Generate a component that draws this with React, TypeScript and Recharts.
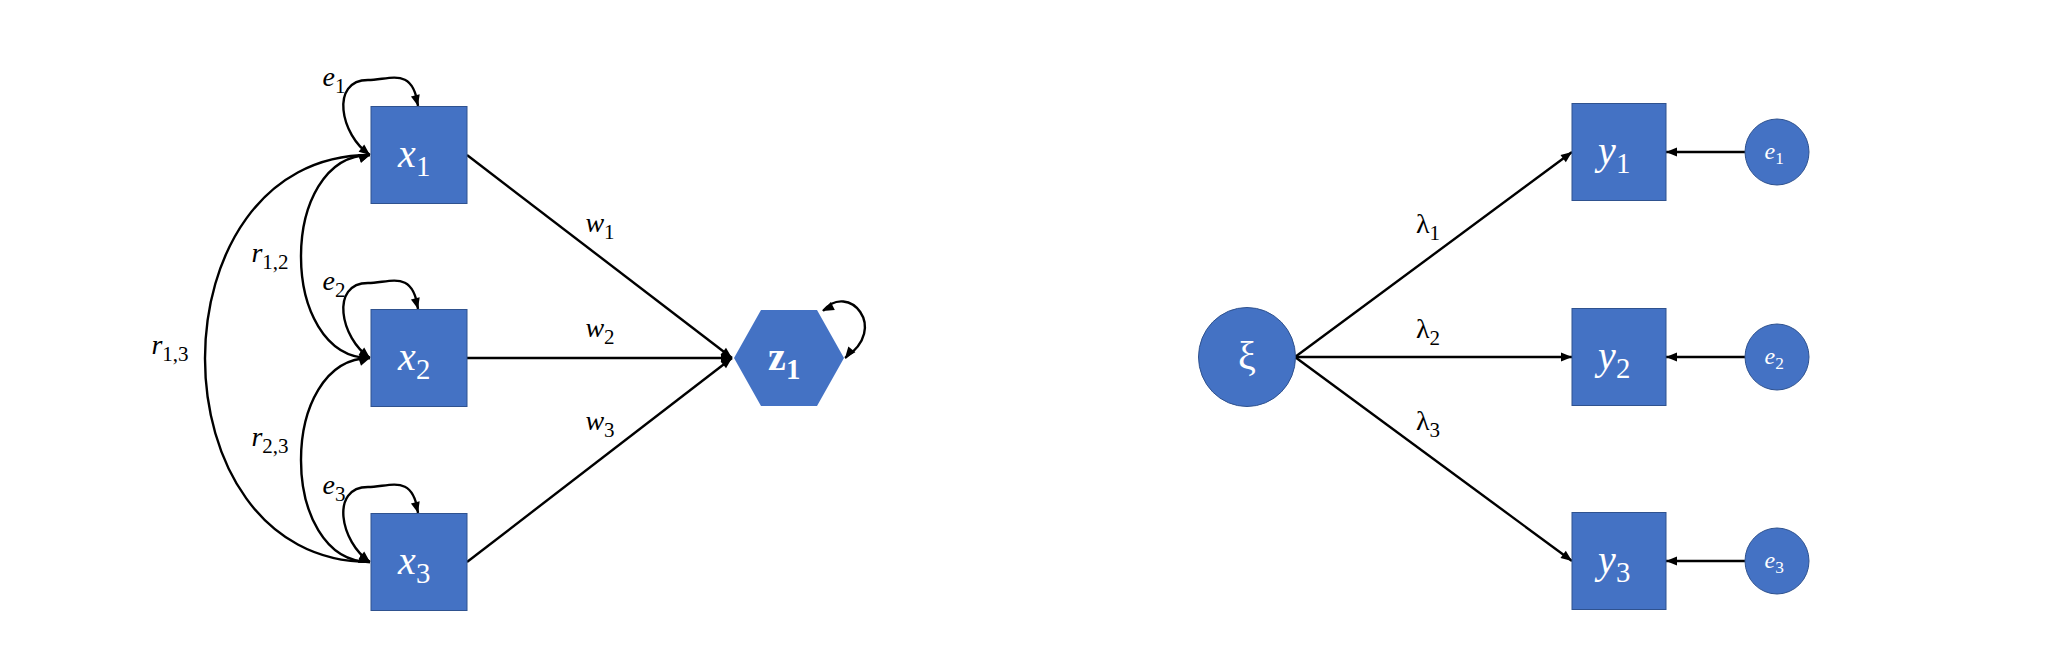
import React from "react"
import { ScatterChart, Scatter, XAxis, YAxis, ReferenceLine } from "recharts"

const W = 2056
const H = 672
const BLUE = "#4472C4"
const EDGE = "#2F528F"

// nodes: centre of each shape
const nodes = [
  { x: 419, y: 155, kind: "box", main: "x", sub: "1", w: 96, h: 97 },
  { x: 419, y: 358, kind: "box", main: "x", sub: "2", w: 96, h: 97 },
  { x: 419, y: 562, kind: "box", main: "x", sub: "3", w: 96, h: 97 },
  { x: 789, y: 358, kind: "hex", main: "z", sub: "1", w: 110, h: 96 },
  { x: 1247, y: 357, kind: "circle", main: "ξ", sub: "", w: 97, h: 99 },
  { x: 1619, y: 152, kind: "box", main: "y", sub: "1", w: 94, h: 97 },
  { x: 1619, y: 357, kind: "box", main: "y", sub: "2", w: 94, h: 97 },
  { x: 1619, y: 561, kind: "box", main: "y", sub: "3", w: 94, h: 97 },
  { x: 1777, y: 152, kind: "small", main: "e", sub: "1", w: 64, h: 66 },
  { x: 1777, y: 357, kind: "small", main: "e", sub: "2", w: 64, h: 66 },
  { x: 1777, y: 561, kind: "small", main: "e", sub: "3", w: 64, h: 66 },
]

// path labels
const labels = [
  { x: 334, y: 86, main: "e", sub: "1" },
  { x: 334, y: 290, main: "e", sub: "2" },
  { x: 334, y: 494, main: "e", sub: "3" },
  { x: 270, y: 262, main: "r", sub: "1,2" },
  { x: 270, y: 446, main: "r", sub: "2,3" },
  { x: 170, y: 354, main: "r", sub: "1,3" },
  { x: 600, y: 232, main: "w", sub: "1" },
  { x: 600, y: 337, main: "w", sub: "2" },
  { x: 600, y: 430, main: "w", sub: "3" },
  { x: 1428, y: 233, main: "λ", sub: "1" },
  { x: 1428, y: 338, main: "λ", sub: "2" },
  { x: 1428, y: 430, main: "λ", sub: "3" },
]

// edges: straight arrows, curved two-headed arcs and self loops
type Edge = { from: [number, number]; to: [number, number]; type: "line" | "arc" | "loop" | "zloop"; bulge?: number }
const edges: Edge[] = [
  { from: [467, 155], to: [732, 358], type: "line" },
  { from: [467, 358], to: [732, 358], type: "line" },
  { from: [467, 562], to: [732, 358], type: "line" },
  { from: [1295, 357], to: [1572, 152], type: "line" },
  { from: [1295, 357], to: [1572, 357], type: "line" },
  { from: [1295, 357], to: [1572, 561], type: "line" },
  { from: [1745, 152], to: [1666, 152], type: "line" },
  { from: [1745, 357], to: [1666, 357], type: "line" },
  { from: [1745, 561], to: [1666, 561], type: "line" },
  { from: [370, 155], to: [370, 358], type: "arc", bulge: 69 },
  { from: [370, 358], to: [370, 562], type: "arc", bulge: 69 },
  { from: [370, 155], to: [370, 562], type: "arc", bulge: 165 },
  { from: [370, 155], to: [418, 106], type: "loop" },
  { from: [370, 358], to: [418, 309], type: "loop" },
  { from: [370, 562], to: [418, 513], type: "loop" },
  { from: [823, 311], to: [845, 358], type: "zloop" },
]

const head = (tx: number, ty: number, fx: number, fy: number, key: string) => {
  const a = Math.atan2(ty - fy, tx - fx)
  const L = 11, hw = 4.5
  const bx = tx - L * Math.cos(a), by = ty - L * Math.sin(a)
  const px = -Math.sin(a) * hw, py = Math.cos(a) * hw
  return <polygon key={key} points={`${tx},${ty} ${bx + px},${by + py} ${bx - px},${by - py}`} fill="#000" />
}

const renderEdge = (p: any, e: Edge) => {
  const { x1, y1, x2, y2 } = p
  const sw = 2.4
  if (e.type === "line") {
    return (
      <g>
        <line x1={x1} y1={y1} x2={x2} y2={y2} stroke="#000" strokeWidth={sw} />
        {head(x2, y2, x1, y1, "h")}
      </g>
    )
  }
  if (e.type === "arc") {
    const k = (e.bulge || 0) / 0.75
    const c1x = x1 - k, c2x = x2 - k
    return (
      <g>
        <path d={`M${x1},${y1} C${c1x},${y1} ${c2x},${y2} ${x2},${y2}`} fill="none" stroke="#000" strokeWidth={sw} />
        {head(x1, y1, x1 - 12, y1 + 4, "a")}
        {head(x2, y2, x2 - 12, y2 - 4, "b")}
      </g>
    )
  }
  if (e.type === "loop") {
    const c1x = x1 - 30, c1y = y1 - 20
    const c2x = x2 - 50, c2y = y2 - 70
    const c3x = x2 - 5, c3y = y2 - 40
    return (
      <g>
        <path d={`M${x1},${y1} C${c1x},${c1y} ${x1 - 40},${y1 - 75} ${x1 - 2},${y1 - 75} C${x1 + 20},${y1 - 75} ${c3x},${c3y} ${x2},${y2}`} fill="none" stroke="#000" strokeWidth={sw} />
        {head(x1, y1, x1 - 10, y1 - 8, "a")}
        {head(x2, y2, x2 - 3, y2 - 12, "b")}
      </g>
    )
    void c2x; void c2y
  }
  return (
    <g>
      <path d={`M${x1},${y1} C${x1 + 25},${y1 - 30} ${x2 + 45},${y2 - 30} ${x2},${y2}`} fill="none" stroke="#000" strokeWidth={sw} />
      {head(x1, y1, x1 + 12, y1 - 6, "a")}
      {head(x2, y2, x2 + 8, y2 - 10, "b")}
    </g>
  )
}

const NodeShape = (props: any) => {
  const { cx, cy, payload } = props
  const { kind, main, sub, w, h } = payload
  let shape
  if (kind === "box") {
    shape = <rect x={cx - w / 2} y={cy - h / 2} width={w} height={h} fill={BLUE} stroke={EDGE} strokeWidth={1} />
  } else if (kind === "hex") {
    const hw = w / 2, hh = h / 2, t = 28
    shape = <polygon points={`${cx - hw},${cy} ${cx - t},${cy - hh} ${cx + t},${cy - hh} ${cx + hw},${cy} ${cx + t},${cy + hh} ${cx - t},${cy + hh}`} fill={BLUE} />
  } else {
    shape = <ellipse cx={cx} cy={cy} rx={w / 2} ry={h / 2} fill={BLUE} stroke={EDGE} strokeWidth={1} />
  }
  const small = kind === "small"
  const fs = small ? 24 : 40
  const italic = kind === "box" || small
  return (
    <g>
      {shape}
      <text x={cx - (sub ? fs * 0.12 : 0)} y={cy + fs * 0.3} textAnchor="middle" fill="#fff"
        fontFamily="'Liberation Serif', serif" fontSize={fs}
        fontStyle={italic ? "italic" : "normal"} fontWeight={kind === "hex" ? "bold" : "normal"}>
        {main}
        {sub && <tspan fontStyle="normal" fontWeight={kind === "hex" ? "bold" : "normal"} fontSize={fs * 0.72} dy={fs * 0.22}>{sub}</tspan>}
      </text>
    </g>
  )
}

const LabelShape = (props: any) => {
  const { cx, cy, payload } = props
  const fs = 28
  return (
    <text x={cx} y={cy} textAnchor="middle" fill="#000" fontFamily="'Liberation Serif', serif" fontSize={fs}
      fontStyle={payload.main === "λ" ? "normal" : "italic"}>
      {payload.main}
      <tspan fontStyle="normal" fontSize={21} dy={7}>{payload.sub}</tspan>
    </text>
  )
}

export default function App() {
  return (
    <div style={{ position: "absolute", left: 0, top: 0, background: "#fff" }}>
      <ScatterChart width={W} height={H} margin={{ top: 0, right: 0, bottom: 0, left: 0 }}>
        <XAxis type="number" dataKey="x" domain={[0, W]} hide />
        <YAxis type="number" dataKey="y" domain={[0, H]} reversed hide />
        {edges.map((e, i) => (
          <ReferenceLine key={i} segment={[{ x: e.from[0], y: e.from[1] }, { x: e.to[0], y: e.to[1] }]}
            ifOverflow="visible" shape={(p: any) => renderEdge(p, e)} />
        ))}
        <Scatter data={nodes} shape={NodeShape} isAnimationActive={false} />
        <Scatter data={labels} shape={LabelShape} isAnimationActive={false} />
      </ScatterChart>
    </div>
  )
}
